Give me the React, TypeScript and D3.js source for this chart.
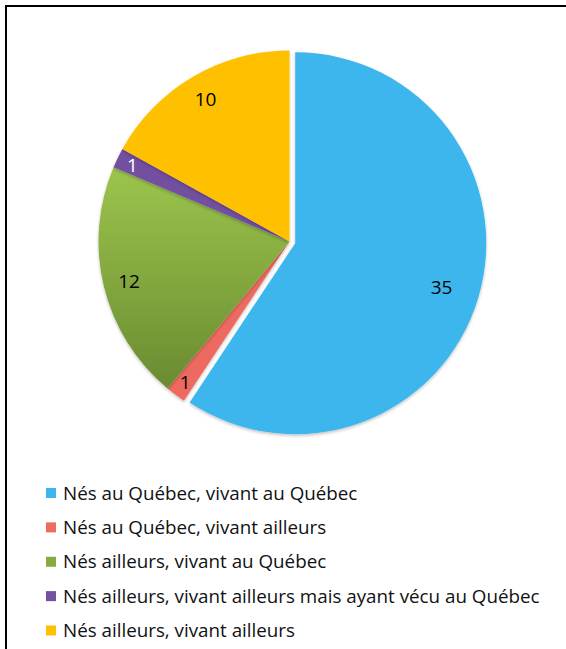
import React from "react";
import * as d3 from "d3";

const categories = [
  "Nés au Québec, vivant au Québec",
  "Nés au Québec, vivant ailleurs",
  "Nés ailleurs, vivant au Québec",
  "Nés ailleurs, vivant ailleurs mais ayant vécu au Québec",
  "Nés ailleurs, vivant ailleurs",
];
const values = [35, 1, 12, 1, 10];
const colors = ["#3DB6EE", "#EE6B60", "url(#greenGrad)", "#7350A0", "#FFC000"];
const legendColors = ["#3DB6EE", "#EE6B60", "#86AB40", "#7350A0", "#FFC000"];
const labelColors = ["#000", "#000", "#000", "#fff", "#000"];

const W = 566;
const H = 649;
const cx = 289.5;
const cy = 241.5;
const R = 191;
const explode = [6, 0, 0, 0, 0];

export default function App() {
  const pie = d3.pie<number>().sort(null).value((d) => d).startAngle(0).endAngle(2 * Math.PI);
  const arcs = pie(values);
  const arc = d3.arc<d3.PieArcDatum<number>>().innerRadius(0).outerRadius(R);
  const font = "'Open Sans', 'Noto Sans', sans-serif";
  const legendY = d3.scaleLinear().domain([0, 4]).range([493, 630.5]);

  return (
    <svg width={W} height={H} style={{ position: "absolute", left: 0, top: 0 }}>
      <defs>
        <linearGradient id="greenGrad" x1="0" y1="0" x2="0" y2="1" gradientUnits="objectBoundingBox">
          <stop offset="0" stopColor="#9CC54C" />
          <stop offset="1" stopColor="#6A8B31" />
        </linearGradient>
        <filter id="shadow" x="-10%" y="-10%" width="120%" height="120%">
          <feDropShadow dx="0" dy="1.5" stdDeviation="1.5" floodColor="#000" floodOpacity="0.25" />
        </filter>
      </defs>
      <rect x={0} y={0} width={W} height={H} fill="#fff" />
      <rect x={6} y={6} width={W + 20} height={H + 20} fill="none" stroke="#000" strokeWidth={2} />
      <g>
        {arcs.map((a, i) => {
          const mid = (a.startAngle + a.endAngle) / 2;
          const ox = Math.sin(mid) * explode[i];
          const oy = -Math.cos(mid) * explode[i];
          return (
            <path
              key={i}
              d={arc(a) || ""}
              transform={`translate(${cx + ox},${cy + oy})`}
              fill={colors[i]}
              filter="url(#shadow)"
            />
          );
        })}
        {arcs.map((a, i) => {
          const mid = (a.startAngle + a.endAngle) / 2;
          const ox = Math.sin(mid) * explode[i];
          const oy = -Math.cos(mid) * explode[i];
          const k = values[i] <= 1 ? 0.915 : i === 0 ? 0.8 : 0.865;
          const lx = cx + ox + Math.sin(mid) * R * k;
          const ly = cy + oy - Math.cos(mid) * R * k;
          return (
            <text
              key={"l" + i}
              x={lx}
              y={ly}
              dy="0.36em"
              textAnchor="middle"
              fontFamily={font}
              fontSize={19}
              fill={labelColors[i]}
            >
              {values[i]}
            </text>
          );
        })}
      </g>
      <g>
        {categories.map((c, i) => (
          <g key={c}>
            <rect x={46} y={legendY(i) - 5} width={10} height={10} fill={legendColors[i]} />
            <text x={63} y={legendY(i) + 6.5} fontFamily={font} fontSize={18.8} fill="#111">
              {c}
            </text>
          </g>
        ))}
      </g>
    </svg>
  );
}
